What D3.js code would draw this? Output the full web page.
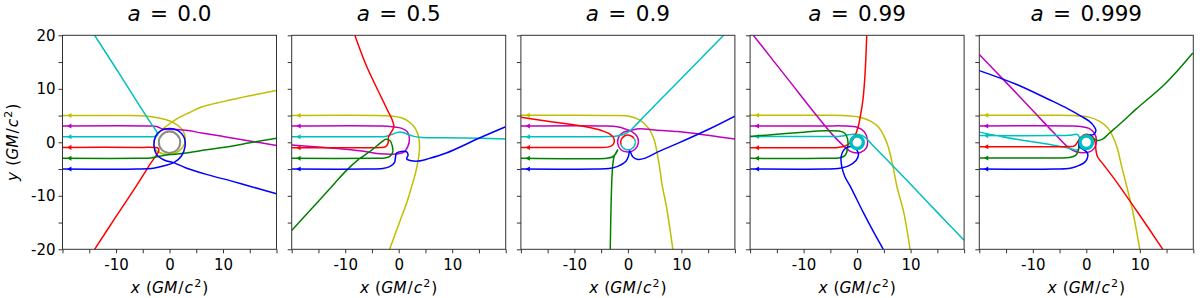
<!DOCTYPE html>
<html>
<head>
<meta charset="utf-8">
<script src="https://cdn.jsdelivr.net/npm/d3@7"></script>
<style>
  body { margin: 0; background: #fff; }
  text { font-family: "DejaVu Sans", sans-serif; fill: #000; }
</style>
</head>
<body>
<svg id="chart" width="1200" height="298"></svg>
<script>
// Spin values, one panel each.
const spins = ['0.0', '0.5', '0.9', '0.99', '0.999'];

// Ray paths in GM/c^2. Each ends at the observer side (left edge).
const rays_a00 = {
  y: [[20,9.7],[15,8.7],[10,7.6],[6,6.6],[3.2,5.3],[1.2,4.3],[-0.6,3.0],[-2.2,1.5],[-2.95,-0.2],[-2.5,-1.5],[-1.2,-2.15],[0.3,-2.25],[1.8,-1.6],[2.8,-0.3],[2.9,1.2],[2.2,2.6],[0.9,3.6],[-0.6,4.2],[-2.2,4.6],[-4.5,4.9],[-8,5.0],[-20,5.02]],
  m: [[20,-0.6],[15,0.25],[10,1.1],[6,1.75],[3.5,2.2],[1.5,2.4],[-0.3,2.4],[-1.3,2.5],[-2.4,2.95],[-4,3.05],[-20,3.05]],
  c: [[-14,20],[-10,13.8],[-6.4,8.1],[-3.5,3.6],[-2.3,1.8],[-2.25,1.3],[-2.8,1.08],[-5,1.05],[-20,1.05]],
  r: [[-14,-20],[-10,-13.9],[-6.1,-8.0],[-3.5,-3.9],[-2.0,-1.6],[-2.1,-1.1],[-2.8,-0.97],[-5,-0.95],[-20,-0.95]],
  g: [[20,0.75],[15,-0.1],[11.8,-0.7],[6.9,-1.4],[3.1,-2.0],[0,-2.3],[-1.9,-2.6],[-3.5,-2.92],[-6,-3.0],[-20,-3.0]],
  b: [[20,-9.6],[15,-8.2],[11.8,-7.3],[6.9,-6.0],[3.1,-4.8],[1,-3.9],[-1,-3.3],[-2.4,-2.3],[-2.9,-0.6],[-2.6,1.1],[-1.6,2.2],[0,2.6],[1.6,2.2],[2.7,1.0],[2.9,-0.8],[2.2,-2.6],[0.8,-3.8],[-1,-4.4],[-3,-4.85],[-6,-5.0],[-20,-5.0]]
};
const rays_a05 = {
  y: [[-1.7,-20],[-0.6,-17],[0.5,-14],[1.6,-11],[2.5,-8],[3.2,-5.5],[3.7,-3],[3.9,-0.8],[3.7,1.1],[3.1,2.6],[2,3.8],[0.5,4.6],[-1.5,4.9],[-4,5.02],[-20,5.02]],
  m: [[-20,-0.5],[-15,-0.9],[-10,-1.3],[-6,-1.75],[-3.5,-2.15],[-0.6,-2.2],[0.9,-1.9],[1.7,-0.8],[2.0,0.75],[1.6,2.0],[0.6,2.6],[-1.2,2.9],[-3.1,3.05],[-20,3.05]],
  c: [[20,0.62],[15,0.75],[9,0.85],[4.4,0.9],[2.5,1.2],[1.2,1.7],[0,1.9],[-1.2,1.5],[-2.5,1.08],[-5,1.05],[-20,1.05]],
  r: [[-8.2,20],[-6,14.2],[-3.2,8.3],[-2.1,6.0],[-1.3,4.4],[-0.9,2.9],[-1.4,1.9],[-1.9,1.0],[-2.0,-0.2],[-2.5,-0.85],[-3.5,-0.98],[-10,-1.0],[-20,-1.0]],
  g: [[-20,-16.5],[-15,-11.0],[-12,-7.7],[-9.8,-5.3],[-7.5,-3.2],[-5.5,-1.8],[-4,-0.6],[-3,0.2],[-2.4,0.55],[-1.6,0.3],[-1.2,-0.7],[-1.1,-1.8],[-1.6,-2.6],[-2.6,-2.95],[-4,-3.0],[-20,-3.0]],
  b: [[20,2.9],[15.1,0.8],[8.9,-2.0],[5.6,-3.05],[3.7,-3.5],[2.4,-3.45],[1.5,-3.1],[1.75,-2.4],[1.5,-1.8],[0.5,-1.7],[-0.4,-2.0],[-0.6,-2.8],[-0.8,-3.8],[-1.6,-4.5],[-3,-4.9],[-6,-5],[-20,-5]]
};
const rays_a09 = {
  y: [[8.4,-20],[7.2,-12],[6.4,-8],[5.9,-4.5],[5.4,-1.6],[4.8,0.8],[3.8,2.7],[2.3,4.1],[0.3,4.85],[-2.5,5.02],[-20,5.05]],
  m: [[20,0.6],[15,1.3],[11.8,1.75],[9.3,2.0],[5,2.3],[2.2,2.55],[0.6,2.25],[-0.8,1.9],[-1.7,1.0],[-1.9,-0.2],[-1.3,-1.4],[0,-1.8],[1.3,-1.35],[1.95,-0.1],[1.7,1.1],[0.8,1.95],[-0.5,2.5],[-2,2.9],[-4,3.05],[-20,3.05]],
  c: [[17.9,20],[12.5,14.5],[8.7,10.6],[6.2,8.1],[3.1,4.9],[1.25,3.0],[0.2,2.0],[-0.6,1.55],[-1.3,1.35],[-2.3,1.15],[-3.5,1.07],[-20,1.05]],
  r: [[-20,4.7],[-14,3.8],[-10,3.25],[-6.9,2.7],[-4.5,2.05],[-3.3,1.5],[-2.7,0.9],[-2.55,0.1],[-2.9,-0.55],[-3.8,-0.9],[-6,-0.97],[-20,-0.97]],
  g: [[-3.3,-20],[-3.15,-12],[-3.0,-7],[-2.85,-4.5],[-2.6,-2.75],[-2.1,-1.7],[-1.9,-1.4],[-2.25,-2.1],[-2.9,-2.75],[-4,-2.97],[-20,-3.0]],
  b: [[20,4.9],[15,2.4],[9.3,-0.2],[5.6,-1.8],[3.1,-3.0],[1.9,-3.2],[0.9,-2.7],[0.35,-1.6],[0.1,-2.6],[-0.4,-3.6],[-1.9,-4.5],[-3.5,-4.9],[-6,-5],[-20,-5]]
};
const rays_a099 = {
  y: [[9.9,-20],[8.7,-13],[7.5,-8.5],[6.7,-4.5],[5.8,-0.8],[5.0,1.2],[4.1,2.7],[2.6,3.9],[0.5,4.7],[-2.5,5.0],[-6,5.05],[-20,5.05]],
  m: [[-19.4,20],[-13,11.9],[-7.8,5.3],[-4.4,1.2],[-2.6,-0.6],[-1.7,-1.4],[-0.7,-1.9],[0.6,-1.9],[1.7,-1.1],[1.95,0.4],[1.3,2.0],[0,2.8],[-2.5,3.05],[-6,3.05],[-20,3.05]],
  c: [[20,-18.3],[15,-13.1],[9.3,-7.1],[6.2,-3.9],[3.05,-0.7],[1.7,0.75],[0.9,1.3],[-0.7,1.5],[-1.6,1.4],[-3.2,1.12],[-6,1.1],[-20,1.1]],
  r: [[1.8,20],[1.5,13],[1.1,8],[0.7,5.4],[0.2,2.9],[-0.4,1.2],[-1.2,0],[-2.2,-0.7],[-3.5,-0.95],[-6,-1.0],[-20,-1.0]],
  g: [[-20,1.1],[-15,1.5],[-10,1.9],[-6,2.15],[-3.5,2.1],[-2.3,1.7],[-1.8,0.7],[-1.8,-1.3],[-2.2,-2.4],[-3.2,-2.9],[-6,-3.0],[-20,-3.0]],
  b: [[4.9,-20],[3,-16.6],[1.2,-13.2],[-1.3,-8.2],[-2.3,-6.4],[-2.9,-4.3],[-3.0,-2.8],[-2.6,-1.6],[-1.8,-0.9],[-0.8,-0.85],[0,-1.5],[0.25,-2.4],[-0.2,-3.4],[-1.6,-4.4],[-3.5,-4.9],[-6,-5],[-20,-5]]
};
const rays_a0999 = {
  y: [[10.0,-20],[8.7,-13],[7.5,-8],[6.6,-4.5],[5.8,-1.1],[5.0,1.0],[4.1,2.6],[2.5,3.9],[0.3,4.75],[-2.5,5.0],[-6,5.05],[-20,5.05]],
  m: [[-20,16.4],[-15,11.2],[-9.4,5.3],[-6.3,2.0],[-3.2,-1.1],[-1.9,-1.75],[-0.6,-1.95],[0.6,-1.8],[1.5,-1.1],[1.9,0.1],[1.5,1.7],[0.5,2.6],[-1,2.95],[-3,3.05],[-20,3.05]],
  c: [[-20,1.9],[-15,0.9],[-10,0.1],[-6.3,-0.5],[-3.2,-1.1],[-1.6,-1.4],[-1.2,0],[-1.6,1.45],[-3.2,1.3],[-6,1.25],[-20,1.25]],
  r: [[14.3,-20],[9.9,-13.5],[5.5,-7.2],[3.0,-3.9],[2.1,-2.7],[1.8,-1.4],[1.7,-0.2],[1.2,1.05],[0,1.5],[-1.0,1.0],[-1.6,0.1],[-2.2,-0.65],[-3.2,-0.8],[-6,-0.82],[-20,-0.82]],
  g: [[19.9,16.7],[14.9,11.1],[9.3,6.2],[6.8,3.9],[4.3,1.7],[3.05,0.6],[2.1,0.35],[1.2,0.75],[0.3,1.3],[-0.8,0.9],[-1.4,-0.2],[-1.45,-1.4],[-2,-2.45],[-3.2,-2.85],[-6,-2.92],[-20,-2.92]],
  b: [[-20,13.4],[-13,10.8],[-7,8.0],[-3.5,6.3],[-1,4.9],[0.6,3.9],[1.5,2.9],[1.8,2.2],[1.4,1.5],[0.5,1.3],[-0.8,1.0],[-1.4,0],[-1.2,-0.9],[-0.3,-1.5],[0.25,-2.1],[0.1,-3.2],[-0.5,-3.9],[-1.3,-4.3],[-3,-4.85],[-6,-5],[-20,-5]]
};
const panelRays = [rays_a00, rays_a05, rays_a09, rays_a099, rays_a0999];

// Horizon drawn only where it shows (panel index -> radius).
const horizon = [2.0, null, null, null, null];
// Thick bands of many windings: [panel, colour key, inner r, outer r].
const rings = [[3, 'c', 0.85, 1.5], [4, 'c', 0.85, 1.5]];
// Short arcs near the horizon: [panel, colour key, r, start deg, end deg] (clockwise from +y).
const arcs = [[2, 'r', 1.35, -110, 60], [2, 'c', 1.4, 60, 250]];

const tickVals = [-20, -15, -10, -5, 0, 5, 10, 15, 20];
const xLabelVals = [-10, 0, 10];
const yLabelVals = [-20, -10, 0, 10, 20];

const colors = {y: '#bfbf00', m: '#bf00bf', c: '#00bfbf', r: '#ff0000', g: '#008000', b: '#0000ff'};
const order = ['y', 'm', 'c', 'r', 'g', 'b'];

// Layout
const size = 214, topY = 35.3, left0 = 62.5, step = 229.2;
const svg = d3.select('#chart');

const x = d3.scaleLinear().domain([-20, 20]).range([0, size]);
const y = d3.scaleLinear().domain([-20, 20]).range([size, 0]);
const rs = d3.scaleLinear().domain([0, 40]).range([0, size]);

const line = d3.line()
  .x(d => x(d[0]))
  .y(d => y(d[1]))
  .curve(d3.curveCatmullRom.alpha(0.5));

// mathtext-like label: x (GM/c^2)
const axisLabel = (sel, v) => {
  sel.append('tspan').style('font-style', 'italic').text(v);
  sel.append('tspan').attr('dx', 1).text(' (');
  sel.append('tspan').style('font-style', 'italic').text('GM');
  sel.append('tspan').attr('dx', 1).text('/');
  sel.append('tspan').attr('dx', 1).style('font-style', 'italic').text('c');
  sel.append('tspan').attr('dy', -6).attr('dx', 1).style('font-size', '11px').text('2');
  sel.append('tspan').attr('dy', 6).attr('dx', 1).text(')');
};

spins.forEach((spin, i) => {
  const g = svg.append('g').attr('transform', 'translate(' + (left0 + i * step) + ',' + topY + ')');

  g.append('clipPath').attr('id', 'clip' + i)
    .append('rect').attr('width', size).attr('height', size);

  const plot = g.append('g').attr('clip-path', 'url(#clip' + i + ')');

  if (horizon[i]) {
    plot.append('circle')
      .attr('cx', x(0)).attr('cy', y(0)).attr('r', rs(horizon[i]))
      .attr('fill', 'none').attr('stroke', '#8c8c8c').attr('stroke-width', 2);
  }

  const rays = panelRays[i];
  order.forEach(k => {
    plot.append('path')
      .attr('d', line(rays[k]))
      .attr('fill', 'none')
      .attr('stroke', colors[k])
      .attr('stroke-width', 1.5);

    arcs.filter(d => d[0] === i && d[1] === k).forEach(d => {
      plot.append('path')
        .attr('transform', 'translate(' + x(0) + ',' + y(0) + ')')
        .attr('d', d3.arc()({innerRadius: rs(d[2]) - 0.75, outerRadius: rs(d[2]) + 0.75,
          startAngle: d[3] * Math.PI / 180, endAngle: d[4] * Math.PI / 180}))
        .attr('fill', colors[k]);
    });

    // Arrow head on the observer end, pointing left.
    const end = rays[k][rays[k].length - 1];
    plot.append('path')
      .attr('d', d3.symbol(d3.symbolTriangle, 11)())
      .attr('transform', 'translate(' + x(-18.6) + ',' + y(end[1]) + ') rotate(-90)')
      .attr('fill', colors[k]);
  });

  // Winding bands sit on top of everything else.
  rings.filter(d => d[0] === i).forEach(d => {
    plot.append('circle')
      .attr('cx', x(0)).attr('cy', y(0))
      .attr('r', (rs(d[2]) + rs(d[3])) / 2)
      .attr('fill', 'none').attr('stroke', colors[d[1]])
      .attr('stroke-width', rs(d[3]) - rs(d[2]));
  });

  // Axes
  const xa = g.append('g').attr('transform', 'translate(0,' + size + ')')
    .call(d3.axisBottom(x).tickValues(tickVals).tickSize(4).tickPadding(6)
      .tickFormat(d => xLabelVals.includes(d) ? d : ''));
  const ya = g.append('g')
    .call(d3.axisLeft(y).tickValues(tickVals).tickSize(4).tickPadding(3)
      .tickFormat(d => (i === 0 && yLabelVals.includes(d)) ? d : ''));
  [xa, ya].forEach(a => {
    a.select('.domain').remove();
    a.selectAll('.tick line').attr('stroke', '#333').attr('stroke-width', 1);
    a.selectAll('text').style('font-size', '15px').style('font-family', '"DejaVu Sans", sans-serif').attr('fill', '#000');
  });

  g.append('rect').attr('width', size).attr('height', size)
    .attr('fill', 'none').attr('stroke', '#333').attr('stroke-width', 1);

  // Title
  const t = g.append('text').attr('x', size / 2).attr('y', 20.5 - topY)
    .attr('text-anchor', 'middle').style('font-size', '21.5px');
  t.append('tspan').style('font-style', 'italic').text('a');
  t.append('tspan').attr('dx', 2.5).text(' =');
  t.append('tspan').attr('dx', 2.5).text(' ' + spin);

  // x label
  const xl = g.append('text').attr('x', size / 2).attr('y', 293.5 - topY)
    .attr('text-anchor', 'middle').style('font-size', '15.5px');
  axisLabel(xl, 'x');

  if (i === 0) {
    const yl = g.append('text')
      .attr('transform', 'translate(' + (18 - left0) + ',' + (size / 2) + ') rotate(-90)')
      .attr('text-anchor', 'middle').style('font-size', '15.5px');
    axisLabel(yl, 'y');
  }
});
</script>
</body>
</html>
